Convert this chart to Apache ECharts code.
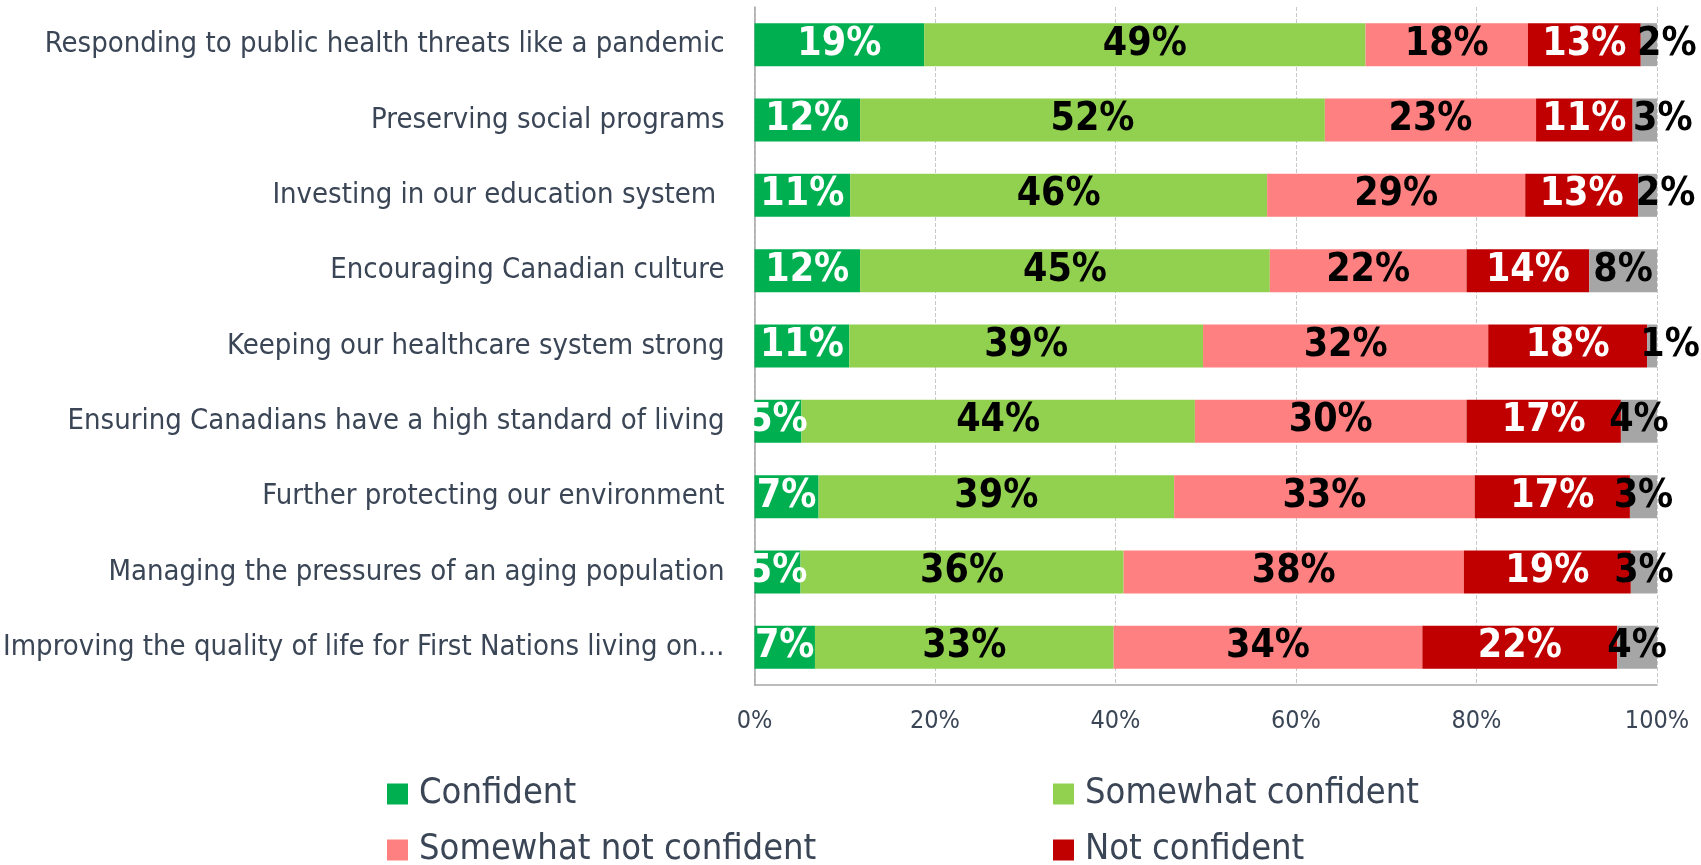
<!DOCTYPE html>
<html>
<head>
<meta charset="utf-8">
<script src="https://cdn.jsdelivr.net/npm/echarts@6/dist/echarts.min.js"></script>
<style>
html,body{margin:0;padding:0;background:#fff;}
#chart{width:1701px;height:865px;}
</style>
</head>
<body>
<div id="chart"></div>
<script>
var categories = [
  "Responding to public health threats like a pandemic",
  "Preserving social programs",
  "Investing in our education system ",
  "Encouraging Canadian culture",
  "Keeping our healthcare system strong",
  "Ensuring Canadians have a high standard of living",
  "Further protecting our environment",
  "Managing the pressures of an aging population",
  "Improving the quality of life for First Nations living on\u2026"
];
var seriesNames = ["Confident", "Somewhat confident", "Somewhat not confident", "Not confident", "Don't know"];
var confident          = [18.8, 11.7, 10.6, 11.7, 10.5, 5.2, 7.1, 5.1, 6.7];
var somewhatConfident  = [48.9, 51.5, 46.2, 45.4, 39.2, 43.6, 39.4, 35.8, 33.1];
var somewhatNot        = [18.0, 23.4, 28.6, 21.8, 31.6, 30.1, 33.3, 37.7, 34.2];
var notConfident       = [12.5, 10.7, 12.5, 13.6, 17.6, 17.1, 17.2, 18.5, 21.6];
var dontKnow           = [1.8, 2.7, 2.1, 7.5, 1.1, 4.0, 3.0, 2.9, 4.4];
var xTicks = [0, 20, 40, 60, 80, 100];

var colors = ["#00B050", "#92D050", "#FF8080", "#C00000", "#A6A6A6"];
var labelColors = ["#FFFFFF", "#000000", "#000000", "#FFFFFF", "#000000"];
var allData = [confident, somewhatConfident, somewhatNot, notConfident, dontKnow];

var FONT = "'DejaVu Sans Condensed', 'Roboto', sans-serif";
var TXT = "#3A4556";

var series = seriesNames.map(function (name, i) {
  var isLast = (i === seriesNames.length - 1);
  return {
    name: name,
    type: "bar",
    stack: "total",
    barWidth: 43,
    data: allData[i].map(function (v) {
      var d = { value: v };
      if (isLast && v < 2.9) { d.label = { offset: [18, 0] }; }
      return d;
    }),
    itemStyle: { color: colors[i] },
    label: {
      show: true,
      position: "inside",
      formatter: function (p) { return Math.round(p.value) + "%"; },
      color: labelColors[i],
      fontFamily: FONT,
      fontWeight: "bold",
      fontSize: 39
    },
    emphasis: { disabled: true }
  };
});

var legendPos = [
  { left: 387, top: 776 },
  { left: 1053, top: 776 },
  { left: 387, top: 832 },
  { left: 1053, top: 832 }
];
var legends = legendPos.map(function (pos, i) {
  return {
    data: [seriesNames[i]],
    left: pos.left,
    top: pos.top,
    padding: 0,
    itemWidth: 21,
    itemHeight: 21,
    icon: "rect",
    selectedMode: false,
    textStyle: { fontFamily: FONT, fontSize: 36, color: TXT, padding: [0, 0, 0, 6] }
  };
});

var chart = echarts.init(document.getElementById("chart"));
chart.setOption({
  animation: false,
  backgroundColor: "#ffffff",
  legend: legends,
  grid: { left: 735, right: 44, top: 7, bottom: 180, containLabel: false },
  xAxis: {
    type: "value",
    min: xTicks[0],
    max: xTicks[xTicks.length - 1],
    interval: 20,
    axisLine: { show: true, lineStyle: { color: "#A6A6A6", width: 1.5 } },
    axisTick: { show: false },
    splitLine: { show: true, lineStyle: { color: "#C8C8C8", type: "dashed", width: 1 } },
    axisLabel: {
      formatter: function (v) { return v + "%"; },
      color: TXT,
      fontFamily: FONT,
      fontSize: 25,
      margin: 24
    }
  },
  yAxis: {
    type: "category",
    inverse: true,
    data: categories,
    axisLine: { show: true, lineStyle: { color: "#A6A6A6", width: 1.5 } },
    axisTick: { show: false },
    axisLabel: {
      color: TXT,
      fontFamily: FONT,
      fontSize: 29,
      margin: 30
    }
  },
  series: series
});
</script>
</body>
</html>
